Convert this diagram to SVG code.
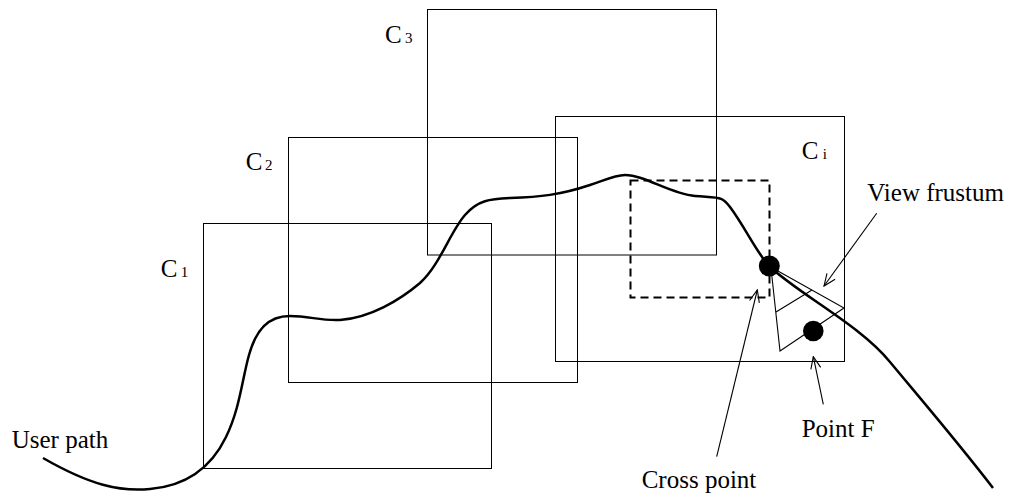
<svg xmlns="http://www.w3.org/2000/svg" width="1013" height="499" viewBox="0 0 1013 499">
<style>
.cell{fill:none;stroke:#000;stroke-width:1}
.lbl{font-family:"Liberation Serif","Times New Roman",serif;font-size:25px;fill:#000}
.sub{font-size:15px}
.thin{fill:none;stroke:#000;stroke-width:1.1}
</style>
<defs>
<marker id="arr" markerWidth="14" markerHeight="12" refX="13" refY="6" orient="auto" markerUnits="userSpaceOnUse">
<path d="M1,1 L13,6 L1,11" fill="none" stroke="#000" stroke-width="1.1"/>
</marker>
</defs>
<rect width="1013" height="499" fill="#fff"/>
<g id="C1"><rect class="cell" x="203.5" y="223.5" width="288" height="245"/>
<text class="lbl" x="160.7" y="276.7">C<tspan class="sub" x="180.7">1</tspan></text></g>
<g id="C2"><rect class="cell" x="288.5" y="137.5" width="289" height="245"/>
<text class="lbl" x="245.7" y="170">C<tspan class="sub" x="265">2</tspan></text></g>
<g id="C3"><rect class="cell" x="427.5" y="9.5" width="289" height="245.5"/>
<text class="lbl" x="385" y="42.7">C<tspan class="sub" x="405">3</tspan></text></g>
<g id="Ci"><rect class="cell" x="555.5" y="116.5" width="289" height="245"/>
<text class="lbl" x="801.7" y="159.3">C<tspan class="sub" x="822.7">i</tspan></text></g>
<g id="window"><rect x="630.5" y="180.5" width="139" height="117" fill="none" stroke="#000" stroke-width="2" stroke-dasharray="8,5"/></g>
<g id="userpath"><path d="M43,458 C90,485 120,492 150,489 C185,486 210,470 226,437 C240,408 242,380 249,355 C256,330 268,316 290,316 C310,316 320,321 340,320 C370,318 400,300 420,283 C440,265 450,232 465,215 C478,200 490,199 510,198 C540,197 560,195 590,185 C605,180 615,175 625,175 C645,175 670,194 695,196 C720,198 722,196 730,207 C745,227 755,250 769,266 C800,295 860,325 890,362 C930,410 960,445 993,488" fill="none" stroke="#000" stroke-width="2.5"/>
<text class="lbl" x="11.7" y="448">User path</text></g>
<g id="frustum">
<path class="thin" d="M769,266 L844,308 L780,351 L771,268"/>
<path class="thin" d="M776,312 L812,290"/>
<text class="lbl" x="867.3" y="200.7">View frustum</text></g>
<g id="crosspoint"><circle cx="769.3" cy="266" r="10.5" fill="#000"/>
<text class="lbl" x="641.7" y="488">Cross point</text></g>
<g id="pointF"><circle cx="813.3" cy="331" r="10.3" fill="#000"/>
<text class="lbl" x="801.7" y="437">Point F</text></g>
<g id="connectors">
<line class="thin" x1="876.7" y1="213.3" x2="824" y2="286" marker-end="url(#arr)"/>
<line class="thin" x1="716.7" y1="456.7" x2="757.3" y2="290" marker-end="url(#arr)"/>
<line class="thin" x1="823.3" y1="404.3" x2="813.3" y2="356.7" marker-end="url(#arr)"/>
</g>
</svg>
